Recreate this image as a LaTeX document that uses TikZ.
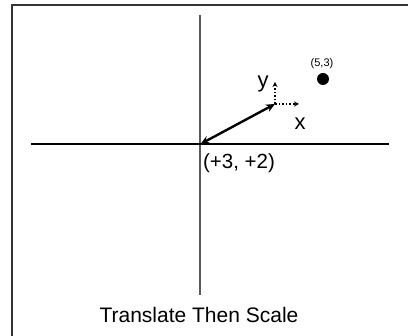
\documentclass[tikz,border=0pt]{standalone}
\usepackage{fontspec}
\setmainfont{Liberation Sans}
\usetikzlibrary{arrows.meta}
\begin{document}
\begin{tikzpicture}[x=1pt,y=-1pt,
  axis/.style={line width=1.2pt},
  vec/.style={line width=2.4pt,{Stealth[length=9pt,width=8pt]}-{Stealth[length=9pt,width=8pt]}},
  frame/.style={line width=1.6pt,draw=black!80},
  dotarrow/.style={line width=1.6pt,dotted,-{Stealth[length=5pt,width=5pt]}},
  lbl/.style={inner sep=0pt,font=\fontsize{22}{24}\selectfont}]
\useasboundingbox (0,0) rectangle (408,336);
\draw[frame] (12,420) -- (12,5) -- (420,5);
\coordinate (vt) at (200,15);
\coordinate (vb) at (200,295);
\coordinate (hl) at (31,144);
\coordinate (hr) at (389,144);
\draw[axis,draw=black!65] (vt) -- (vb);
\draw[axis] (hl) -- (hr);
\coordinate (o) at (200.5,144);
\coordinate (p) at (275,104);
\coordinate (py) at (275,82);
\coordinate (px) at (299,104);
\draw[vec] (o) -- (p);
\draw[dotarrow] (p) -- (py);
\draw[dotarrow] (p) -- (px);
\node[lbl] (ylab) at (263,84) {y};
\node[lbl] (xlab) at (300,124) {x};
\node[circle,fill=black,minimum size=12pt,inner sep=0pt] (pt) at (323,79) {};
\node[inner sep=0pt,font=\fontsize{11}{12}\selectfont] (ptlab) at (322,64) {(5,3)};
\node[inner sep=0pt,font=\fontsize{20.5}{22}\selectfont] (tr) at (239,163) {(+3, +2)};
\node[inner sep=0pt,font=\fontsize{21}{24}\selectfont] (title) at (199,315) {Translate Then Scale};
\end{tikzpicture}
\end{document}
